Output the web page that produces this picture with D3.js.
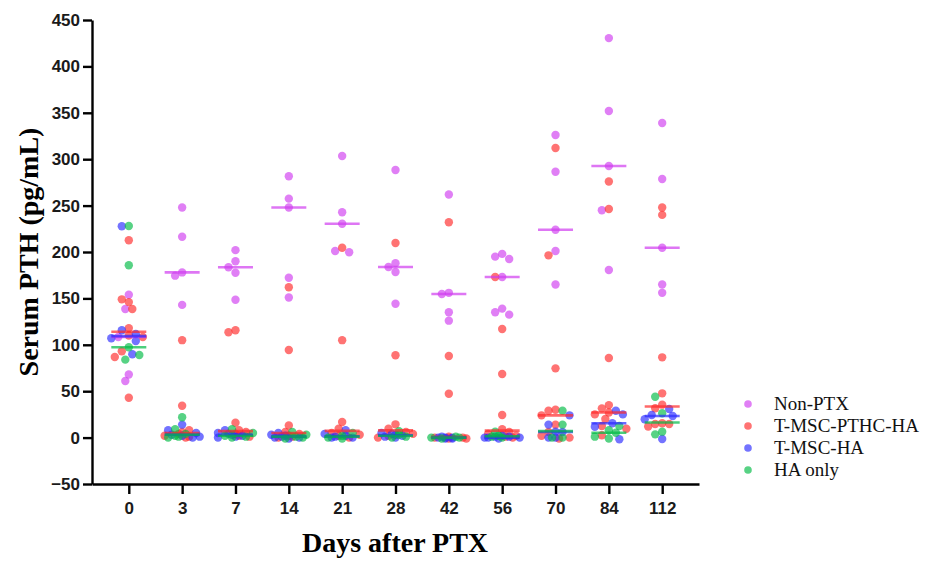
<!DOCTYPE html>
<html>
<head>
<meta charset="utf-8">
<script src="https://cdn.jsdelivr.net/npm/d3@7"></script>
<style>
  body { margin: 0; background: #fff; }
</style>
</head>
<body>
<div id="chart"></div>
<script>
var days = ['0', '3', '7', '14', '21', '28', '42', '56', '70', '84', '112'];
var yTicks = [-50, 0, 50, 100, 150, 200, 250, 300, 350, 400, 450];

// serum PTH (pg/mL) per animal, one inner list per day
var nonPtx = [
  [154, 138.6, 108.4, 68, 61],
  [248, 216.5, 178, 174.5, 143],
  [202, 190, 183.5, 177.7, 148.6],
  [281.6, 257.5, 248, 172.3, 151],
  [303.4, 242.8, 230.5, 201, 199.7],
  [288.4, 188, 183.8, 178.4, 144.3],
  [262, 156, 154.7, 135, 126],
  [198, 195, 192.5, 173, 139, 135, 132.5],
  [326, 286.5, 224, 201, 165],
  [430.5, 352, 292.7, 245, 180.6],
  [339, 278.7, 204.6, 165, 156]
];

var tMscPthcHa = [
  [212.6, 149, 146, 138.6, 118, 110, 108.4, 93, 86.9, 43],
  [105, 34.4, 8, 6, 4, 2, 1, 0],
  [115.6, 113.5, 16, 8, 6, 4, 2, 1],
  [162, 94.4, 13, 6, 4, 2, 1, 0],
  [204.6, 105, 16.8, 9.6, 5, 3, 2, 0],
  [209.7, 88.7, 14.3, 9.6, 6, 4, 2, 0],
  [232, 88, 47.3, 1, 0, 0, -1, -1],
  [173, 117, 68.5, 24.3, 9, 6, 4, 2, 1, 0],
  [312, 196.4, 74.6, 30, 29, 24, 14, 6, 2, 0, -1],
  [276, 246.3, 85.8, 35, 31.5, 27, 25, 20, 12.5, 9.6, 2.5],
  [248, 240, 86.5, 47.7, 35.5, 31.6, 15.4, 14.7, 14.7, 12]
];

var tMscHa = [
  [227.7, 115.6, 111.6, 107, 104, 89.8],
  [14, 8, 5, 3, 2, 1, 0],
  [8, 5, 4, 3, 2, 1, 0],
  [5, 3, 2, 1, 0, 0, -1],
  [8, 4, 2, 1, 0, 0],
  [5, 4, 3, 2, 1, 0],
  [1, 0, 0, -1, -1, 0],
  [2, 1, 0, 0, -1, 0, 1],
  [24, 14, 6.4, 6, 0, 0],
  [29, 25, 15.4, 11.7, -1.8],
  [30.8, 24.4, 23.3, 19.7, -1.5]
];

var haOnly = [
  [228, 185.7, 97.3, 89, 84],
  [22, 9, 4, 2, 1, 0],
  [9, 5, 2, 1, 0],
  [6, 3, 1, 0, -1],
  [5, 2, 0, -1],
  [7, 3, 1, 0],
  [0, -1, 0, 1],
  [6.4, 2, 1, 0],
  [29, 14, 0, 0],
  [12.5, 8, 5.3, 1, -1],
  [44, 26.2, 6.4, 3.5]
];

var groups = [
  {label: 'Non-PTX', color: '#d03cf0', values: nonPtx},
  {label: 'T-MSC-PTHC-HA', color: '#ff2a2a', values: tMscPthcHa},
  {label: 'T-MSC-HA', color: '#2a2aff', values: tMscHa},
  {label: 'HA only', color: '#00bb44', values: haOnly}
];

var width = 929, height = 561, r = 4.2;

var svg = d3.select('#chart').append('svg')
  .attr('width', width)
  .attr('height', height);

var x = d3.scalePoint().domain(days).range([92, 699]).padding(0.69);
var y = d3.scaleLinear().domain([-50, 450]).range([484, 20]);

// beeswarm over all groups of one day; crowded points are allowed to overlap
var offs = [0, -3.5, 3.5, -7, 7, -10.5, 10.5, -14, 14, -17.5, 17.5];
function swarm(pts, cx) {
  var placed = [];
  pts.sort(function(a, b) { return b.v - a.v; }).forEach(function(p) {
    var py = y(p.v), best = null, bestGap = -1;
    for (var k = 0; k < offs.length; k++) {
      var px = cx + offs[k];
      var gap = d3.min(placed, function(q) { return Math.hypot(q.x - px, q.y - py); });
      if (gap === undefined || gap >= 7) { best = px; break; }
      if (gap > bestGap + 1.5) { bestGap = gap; best = px; }
    }
    p.x = best;
    p.y = py;
    placed.push(p);
  });
  return pts;
}

var points = [];
days.forEach(function(day, i) {
  var pts = [];
  groups.forEach(function(g, gi) {
    g.values[i].forEach(function(v) { pts.push({v: v, g: gi}); });
  });
  points = points.concat(swarm(pts, x(day)));
});

var plot = svg.append('g');

groups.forEach(function(g, gi) {
  plot.append('g').selectAll('circle')
    .data(points.filter(function(p) { return p.g === gi; }))
    .enter().append('circle')
      .attr('cx', function(d) { return d.x; })
      .attr('cy', function(d) { return d.y; })
      .attr('r', r)
      .style('fill', g.color)
      .style('fill-opacity', 0.66);
});

// median lines
groups.forEach(function(g) {
  plot.append('g').selectAll('line')
    .data(g.values)
    .enter().append('line')
      .attr('x1', function(d, i) { return x(days[i]) - 17.5; })
      .attr('x2', function(d, i) { return x(days[i]) + 17.5; })
      .attr('y1', function(d) { return y(d3.median(d)); })
      .attr('y2', function(d) { return y(d3.median(d)); })
      .style('stroke', g.color)
      .style('stroke-opacity', 0.7)
      .style('stroke-width', 2.6);
});

// axes
var yAxis = svg.append('g')
  .attr('transform', 'translate(92,0)')
  .call(d3.axisLeft(y).tickValues(yTicks).tickSize(9).tickSizeOuter(0).tickPadding(3));

var xAxis = svg.append('g')
  .attr('transform', 'translate(0,484)')
  .call(d3.axisBottom(x).tickSize(10).tickSizeOuter(0).tickPadding(8));

[yAxis, xAxis].forEach(function(ax) {
  ax.select('.domain').style('stroke', '#000').style('stroke-width', 2.4);
  ax.selectAll('.tick line').style('stroke', '#000').style('stroke-width', 2.4);
  ax.selectAll('.tick text')
    .style('font-family', '"Liberation Sans", Arial, sans-serif')
    .style('font-weight', 'bold')
    .style('font-size', '17px')
    .style('fill', '#1a1a1a');
});

// axis titles
svg.append('text')
  .attr('x', 395)
  .attr('y', 552)
  .attr('text-anchor', 'middle')
  .style('font-family', '"Liberation Serif", "Times New Roman", serif')
  .style('font-weight', 'bold')
  .style('font-size', '28px')
  .text('Days after PTX');

svg.append('text')
  .attr('transform', 'translate(38,252)rotate(-90)')
  .attr('text-anchor', 'middle')
  .style('font-family', '"Liberation Serif", "Times New Roman", serif')
  .style('font-weight', 'bold')
  .style('font-size', '28px')
  .text('Serum PTH (pg/mL)');

// legend
var legend = svg.append('g').attr('transform', 'translate(748,404)');
var items = legend.selectAll('g').data(groups).enter()
  .append('g')
    .attr('transform', function(d, i) { return 'translate(0,' + i * 22 + ')'; });

items.append('circle')
  .attr('r', 3.8)
  .style('fill', function(d) { return d.color; })
  .style('fill-opacity', 0.66);

items.append('text')
  .attr('x', 26)
  .attr('y', 6)
  .style('font-family', '"Liberation Serif", "Times New Roman", serif')
  .style('font-size', '19px')
  .style('fill', '#111')
  .text(function(d) { return d.label; });
</script>
</body>
</html>
